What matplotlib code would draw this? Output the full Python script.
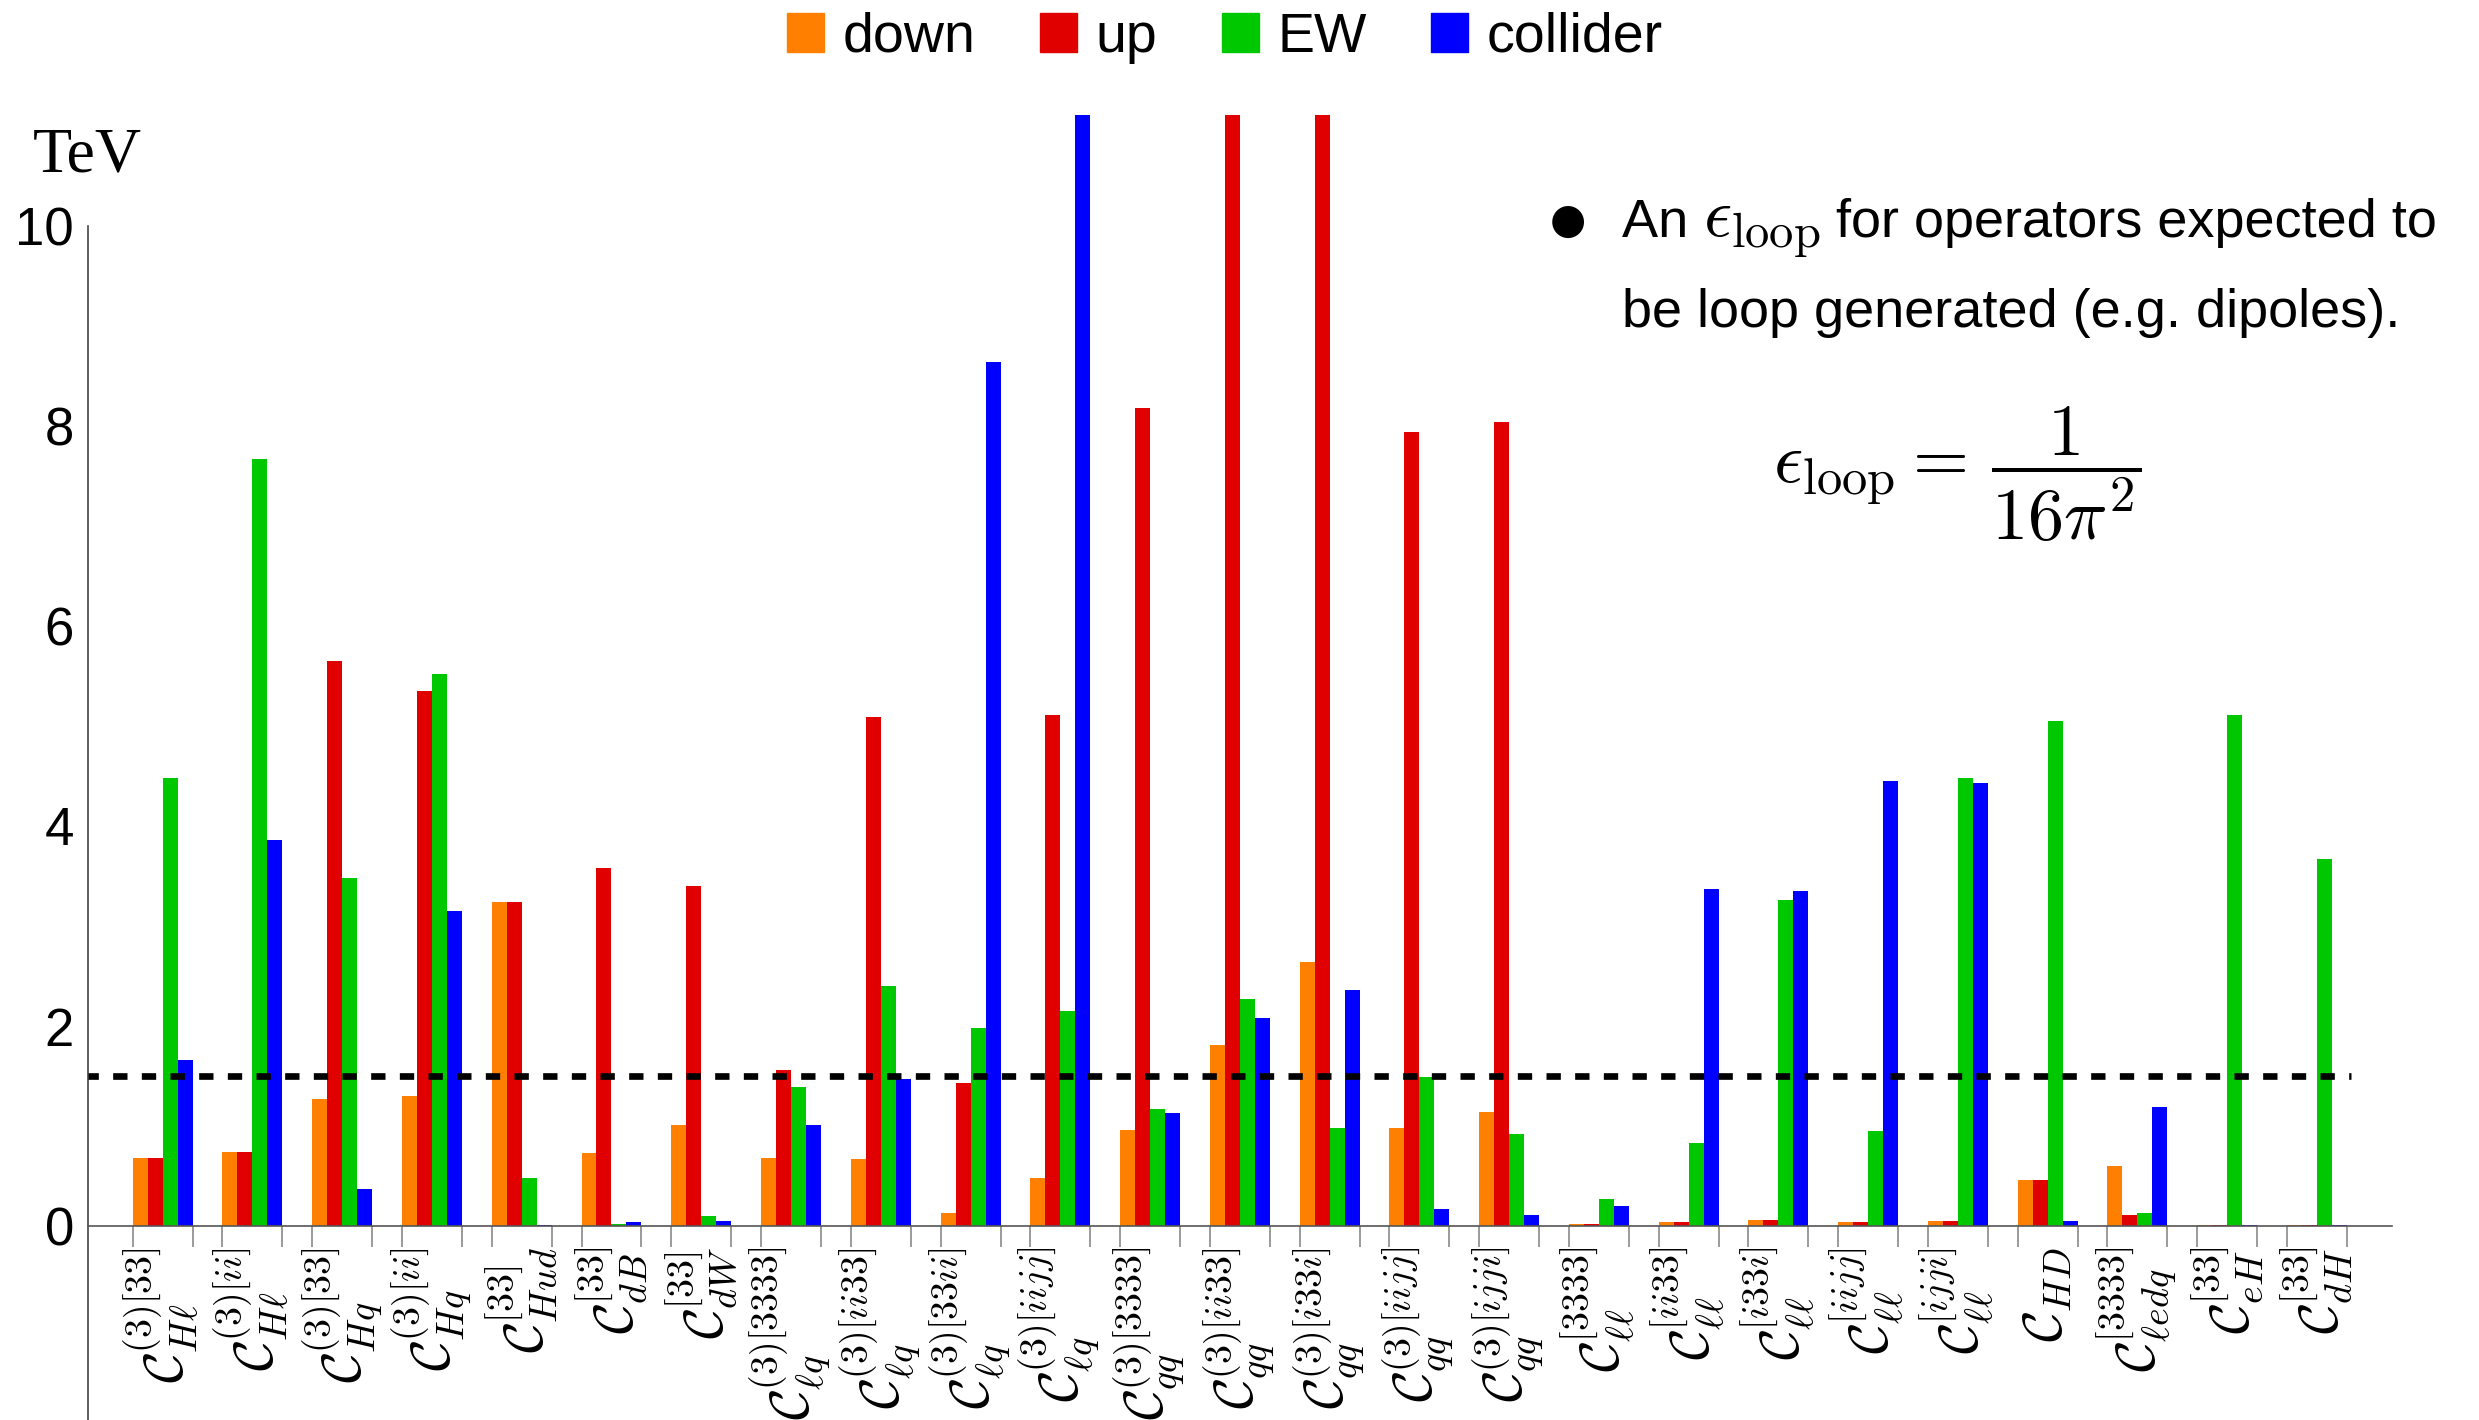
import numpy as np
import matplotlib
matplotlib.use('Agg')
import matplotlib.pyplot as plt
from matplotlib.patches import Patch

plt.rcParams['font.family'] = ['Liberation Sans', 'DejaVu Sans']
plt.rcParams['mathtext.fontset'] = 'cm'

# operadores del SMEFT y escala en TeV para cada tipo de observable
operadores = [
    r'$\mathcal{C}_{H\ell}^{(3)[33]}$',
    r'$\mathcal{C}_{H\ell}^{(3)[ii]}$',
    r'$\mathcal{C}_{Hq}^{(3)[33]}$',
    r'$\mathcal{C}_{Hq}^{(3)[ii]}$',
    r'$\mathcal{C}_{Hud}^{[33]}$',
    r'$\mathcal{C}_{dB}^{[33]}$',
    r'$\mathcal{C}_{dW}^{[33]}$',
    r'$\mathcal{C}_{\ell q}^{(3)[3333]}$',
    r'$\mathcal{C}_{\ell q}^{(3)[ii33]}$',
    r'$\mathcal{C}_{\ell q}^{(3)[33ii]}$',
    r'$\mathcal{C}_{\ell q}^{(3)[iijj]}$',
    r'$\mathcal{C}_{qq}^{(3)[3333]}$',
    r'$\mathcal{C}_{qq}^{(3)[ii33]}$',
    r'$\mathcal{C}_{qq}^{(3)[i33i]}$',
    r'$\mathcal{C}_{qq}^{(3)[iijj]}$',
    r'$\mathcal{C}_{qq}^{(3)[ijji]}$',
    r'$\mathcal{C}_{\ell\ell}^{[3333]}$',
    r'$\mathcal{C}_{\ell\ell}^{[ii33]}$',
    r'$\mathcal{C}_{\ell\ell}^{[i33i]}$',
    r'$\mathcal{C}_{\ell\ell}^{[iijj]}$',
    r'$\mathcal{C}_{\ell\ell}^{[ijji]}$',
    r'$\mathcal{C}_{HD}$',
    r'$\mathcal{C}_{\ell edq}^{[3333]}$',
    r'$\mathcal{C}_{eH}^{[33]}$',
    r'$\mathcal{C}_{dH}^{[33]}$',
]

# los valores de 12 se salen por arriba del rango graficado
down = [0.68, 0.74, 1.27, 1.30, 3.24, 0.73, 1.01, 0.68, 0.67, 0.13, 0.48, 0.96, 1.81,
        2.64, 0.98, 1.14, 0.02, 0.04, 0.06, 0.04, 0.05, 0.46, 0.60, 0.01, 0.01]
up = [0.68, 0.74, 5.65, 5.35, 3.24, 3.58, 3.40, 1.56, 5.09, 1.43, 5.11, 8.18, 12.0,
      12.0, 7.94, 8.04, 0.02, 0.04, 0.06, 0.04, 0.05, 0.46, 0.11, 0.01, 0.01]
ew = [4.48, 7.67, 3.48, 5.52, 0.48, 0.02, 0.10, 1.39, 2.40, 1.98, 2.15, 1.17, 2.27,
      0.98, 1.49, 0.92, 0.27, 0.83, 3.26, 0.95, 4.48, 5.05, 0.13, 5.11, 3.67]
collider = [1.66, 3.86, 0.37, 3.15, 0.01, 0.04, 0.05, 1.01, 1.47, 8.64, 12.0, 1.13, 2.08,
            2.36, 0.17, 0.11, 0.20, 3.37, 3.35, 4.45, 4.43, 0.05, 1.19, 0.01, 0.01]

series = ['down', 'up', 'EW', 'collider']
colores = ['#ff8000', '#e00000', '#00c800', '#0000ff']
umbral = 1.5  # linea punteada

W, H = 2479, 1420
fig = plt.figure(figsize=(W / 100, H / 100), dpi=100)
ax = fig.add_axes([88 / W, 0, (2392 - 88) / W, 1 - 115 / H])

x = np.arange(1, len(operadores) + 1)
ancho = 0.167
for k, (nombre, vals, c) in enumerate(zip(series, [down, up, ew, collider], colores)):
    ax.bar(x + (k - 1.5) * ancho, vals, width=ancho, color=c, linewidth=0, label=nombre)

x_lo, x_hi = 0.168, 25.836
ax.set_xlim(x_lo, x_hi)
ax.set_ylim(-1.94, 11.11)

ax.hlines(umbral, x_lo, x[-1] + 0.38, colors='black', linewidth=4.8,
          linestyles=(0.6, (2.15, 2.15)), zorder=3)

# ejes estilo Mathematica
for lado in ['top', 'right']:
    ax.spines[lado].set_visible(False)
ax.spines['bottom'].set_position(('data', 0))
ax.spines['bottom'].set_color('#555555')
ax.spines['bottom'].set_linewidth(1.2)
ax.spines['left'].set_bounds(-1.94, 10)
ax.spines['left'].set_color('#444444')
ax.spines['left'].set_linewidth(1.2)

ax.set_xticks(x)
ax.set_xticklabels(operadores, rotation=90, fontsize=39)
ax.set_xticks(np.concatenate([x - 2 * ancho, x + 2 * ancho]), minor=True)
ax.tick_params(axis='x', which='major', length=0, pad=15)
ax.tick_params(axis='x', which='minor', length=15, width=1.1, color='#808080', direction='out')

ax.set_yticks([0, 2, 4, 6, 8, 10])
ax.set_yticklabels(['0', '2', '4', '6', '8', '10'], fontsize=38)
ax.tick_params(axis='y', length=0, pad=10)

fig.text(87 / W, 1 - 157 / H, 'TeV', family='Liberation Serif', fontsize=46,
         ha='center', va='center')

handles = [Patch(color=c, label=s) for s, c in zip(series, colores)]
fig.legend(handles=handles, loc='center', bbox_to_anchor=(1225 / W, 1 - 38 / H), ncol=4,
           frameon=False, fontsize=40, handlelength=0.67, handleheight=0.7,
           handletextpad=0.34, columnspacing=1.15, borderpad=0, borderaxespad=0)

# nota sobre epsilon_loop, la primera linea se arma por partes
fig.text(1568 / W, 1 - 221 / H, '\u25cf', family='DejaVu Sans', fontsize=30,
         ha='center', va='center')
renderer = fig.canvas.get_renderer()
x_px, y_px = 1622, H - 237
partes = [('An ', 39), (r'$\epsilon_{\rm loop}$', 50), (' for operators expected to', 39)]
for texto, tam in partes:
    t = fig.text(x_px / W, y_px / H, texto, fontsize=tam, ha='left', va='baseline')
    x_px = t.get_window_extent(renderer).x1
fig.text(1622 / W, 1 - 327 / H, 'be loop generated (e.g. dipoles).',
         fontsize=39, ha='left', va='baseline')
fig.text(1957 / W, 1 - 474 / H, r'$\epsilon_{\rm loop}=\,\dfrac{1}{16\pi^2}$',
         fontsize=52, ha='center', va='center')

fig.savefig('out.png', dpi=100)
